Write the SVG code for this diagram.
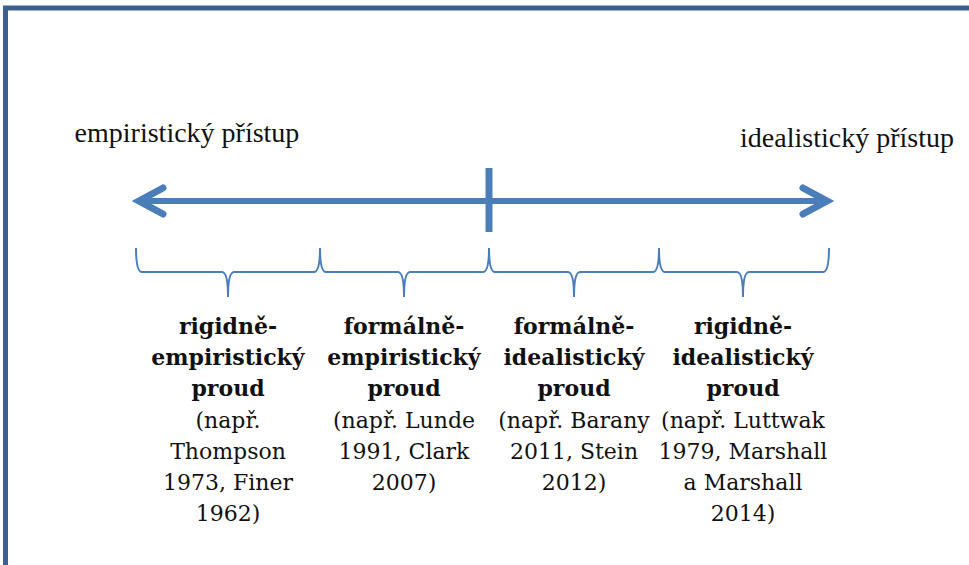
<svg xmlns="http://www.w3.org/2000/svg" width="969" height="565" viewBox="0 0 969 565">
<style>
text{font-family:'Liberation Serif','Times New Roman',serif;font-size:28px;fill:#111;text-anchor:middle}
.n text{font-family:'DejaVu Serif',serif;font-size:22px}
.b{font-weight:bold}
.br{fill:none;stroke:#4a7ebb;stroke-width:2}
</style>
<rect width="969" height="565" fill="#fff"/>
<path d="M5.5,570 V8 H975" fill="none" stroke="#3b5f8e" stroke-width="5"/>
<g id="labels">
<text x="187" y="142">empiristický přístup</text>
<text x="847" y="147">idealistický přístup</text>
</g>
<g id="connectors">
<line x1="142" y1="201" x2="825" y2="201" stroke="#4a7ebb" stroke-width="6"/>
<polyline points="163,188 139,201 163,214" fill="none" stroke="#4a7ebb" stroke-width="7" stroke-linecap="round" stroke-linejoin="miter"/>
<polyline points="803,188 827,201 803,214" fill="none" stroke="#4a7ebb" stroke-width="7" stroke-linecap="round" stroke-linejoin="miter"/>
<line x1="489" y1="168" x2="489" y2="232" stroke="#4a7ebb" stroke-width="7"/>
<path class="br" d="M136,248 Q136,272 142,272 L222,272 Q228,272 228,297 Q228,272 234,272 L314,272 Q320,272 320,248"/>
<path class="br" d="M320,248 Q320,272 326,272 L398,272 Q404,272 404,297 Q404,272 410,272 L483,272 Q489,272 489,248"/>
<path class="br" d="M489,248 Q489,272 495,272 L568,272 Q574,272 574,297 Q574,272 580,272 L653,272 Q659,272 659,248"/>
<path class="br" d="M659,248 Q659,272 665,272 L737,272 Q743,272 743,297 Q743,272 749,272 L823,272 Q829,272 829,248"/>
</g>
<g id="stream-rigid-emp" class="n">
<text class="b" x="228" y="334">rigidně-</text>
<text class="b" x="228" y="365">empiristický</text>
<text class="b" x="228" y="396">proud</text>
<text x="228" y="428">(např.</text>
<text x="228" y="459">Thompson</text>
<text x="228" y="490">1973, Finer</text>
<text x="228" y="521">1962)</text>
</g>
<g id="stream-formal-emp" class="n">
<text class="b" x="404" y="334">formálně-</text>
<text class="b" x="404" y="365">empiristický</text>
<text class="b" x="404" y="396">proud</text>
<text x="404" y="428">(např. Lunde</text>
<text x="404" y="459">1991, Clark</text>
<text x="404" y="490">2007)</text>
</g>
<g id="stream-formal-ide" class="n">
<text class="b" x="574" y="334">formálně-</text>
<text class="b" x="574" y="365">idealistický</text>
<text class="b" x="574" y="396">proud</text>
<text x="574" y="428">(např. Barany</text>
<text x="574" y="459">2011, Stein</text>
<text x="574" y="490">2012)</text>
</g>
<g id="stream-rigid-ide" class="n">
<text class="b" x="743" y="334">rigidně-</text>
<text class="b" x="743" y="365">idealistický</text>
<text class="b" x="743" y="396">proud</text>
<text x="743" y="428">(např. Luttwak</text>
<text x="743" y="459">1979, Marshall</text>
<text x="743" y="490">a Marshall</text>
<text x="743" y="521">2014)</text>
</g>
</svg>
